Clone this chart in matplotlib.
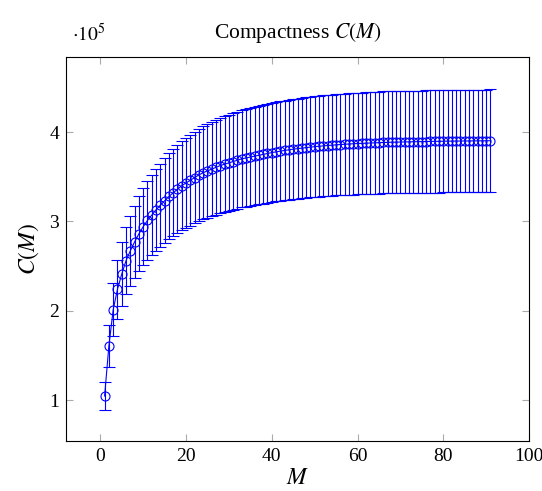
import matplotlib
matplotlib.use("Agg")
import matplotlib.pyplot as plt
import numpy as np

# Data (C values in units of 1e5)
M = list(range(1, 92))
C = [1.045, 1.605, 2.010, 2.240, 2.410, 2.560, 2.670, 2.770, 2.860, 2.940,
     3.010, 3.070, 3.130, 3.180, 3.230, 3.280, 3.320, 3.360, 3.400, 3.430,
     3.460, 3.490, 3.520, 3.545, 3.565, 3.585, 3.605, 3.625, 3.640, 3.655,
     3.670, 3.685, 3.700, 3.710, 3.720, 3.730, 3.740, 3.750, 3.760, 3.770,
     3.778, 3.786, 3.794, 3.801, 3.808, 3.814, 3.820, 3.826, 3.831, 3.836,
     3.841, 3.845, 3.849, 3.853, 3.857, 3.860, 3.863, 3.866, 3.869, 3.871,
     3.873, 3.875, 3.877, 3.879, 3.881, 3.883, 3.884, 3.886, 3.887, 3.888,
     3.889, 3.890, 3.891, 3.892, 3.893, 3.894, 3.895, 3.896, 3.896, 3.897,
     3.898, 3.898, 3.899, 3.899, 3.900, 3.900, 3.901, 3.901, 3.902, 3.902,
     3.903]
ERR = [0.153, 0.236, 0.295, 0.329, 0.354, 0.376, 0.392, 0.407, 0.420, 0.432,
       0.442, 0.451, 0.460, 0.467, 0.475, 0.482, 0.488, 0.494, 0.500, 0.504,
       0.509, 0.513, 0.517, 0.521, 0.524, 0.527, 0.530, 0.533, 0.535, 0.537,
       0.539, 0.542, 0.544, 0.545, 0.547, 0.548, 0.550, 0.551, 0.553, 0.554,
       0.555, 0.556, 0.558, 0.559, 0.560, 0.561, 0.561, 0.562, 0.563, 0.564,
       0.565, 0.565, 0.566, 0.566, 0.567, 0.567, 0.568, 0.568, 0.569, 0.569,
       0.569, 0.570, 0.570, 0.570, 0.571, 0.571, 0.571, 0.571, 0.571, 0.572,
       0.572, 0.572, 0.572, 0.572, 0.572, 0.572, 0.573, 0.573, 0.573, 0.573,
       0.573, 0.573, 0.573, 0.573, 0.573, 0.573, 0.573, 0.573, 0.574, 0.574,
       0.574]
XTICKS = [0, 20, 40, 60, 80, 100]
YTICKS = [1, 2, 3, 4]

plt.rcParams['font.family'] = ['Liberation Serif', 'DejaVu Serif']
plt.rcParams['mathtext.fontset'] = 'stix'

fig = plt.figure(figsize=(5.42, 4.91), dpi=100)
ax = fig.add_axes([0.1218, 0.1018, 0.8542, 0.7821])

ax.errorbar(M, C, yerr=ERR, color='blue', lw=0.8, elinewidth=0.8,
            capsize=4.5, capthick=0.8, marker='o', markersize=6.5,
            markerfacecolor='none', markeredgecolor='blue', markeredgewidth=0.8)

ax.set_xlim(-8, 100)
ax.set_ylim(0.541, 4.84)
ax.set_xticks(XTICKS)
ax.set_yticks(YTICKS)
ax.tick_params(direction='in', length=5, width=0.8, color='#aaaaaa',
               top=True, right=True, labelsize=14, pad=5)
for s in ax.spines.values():
    s.set_linewidth(0.8)

ax.set_title('Compactness $C(M)$', fontsize=15.5, pad=14)
ax.set_xlabel('$M$', fontsize=17, labelpad=2)
ax.set_ylabel('$C(M)$', fontsize=17, labelpad=6)
ax.text(0.012, 1.03, r'$\cdot10^5$', transform=ax.transAxes, fontsize=14,
        ha='left', va='bottom')

fig.savefig('out.png', dpi=100)
